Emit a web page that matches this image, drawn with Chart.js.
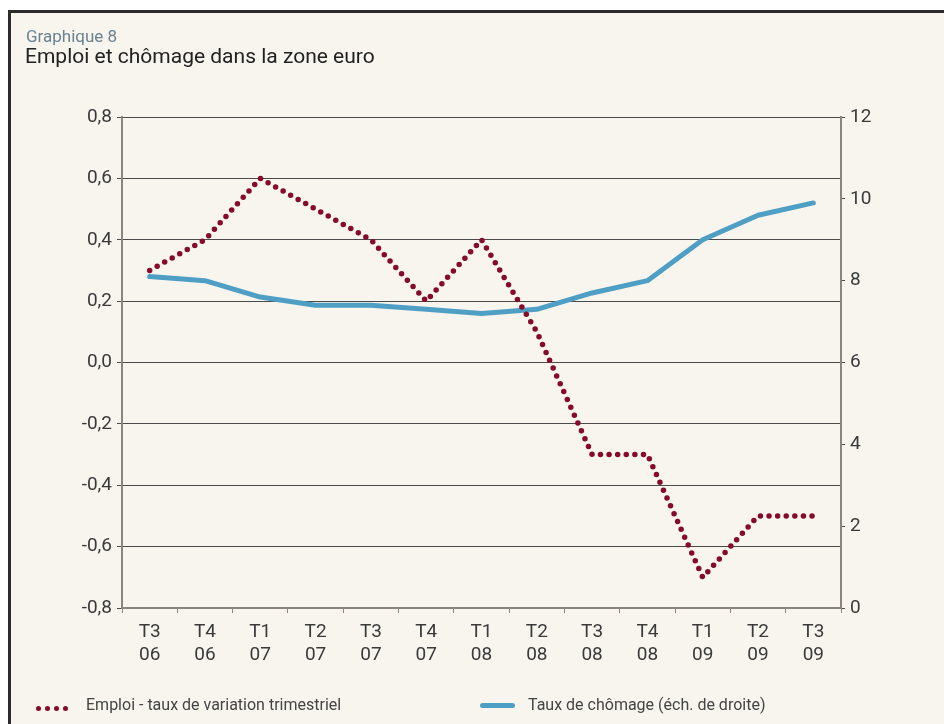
<!DOCTYPE html>
<html>
<head>
<meta charset="utf-8">
<script src="https://cdn.jsdelivr.net/npm/chart.js@4/dist/chart.umd.min.js"></script>
<style>
  html, body { margin: 0; padding: 0; background: #fff; }
  #page { position: relative; width: 944px; height: 724px; overflow: hidden; background: #fff; font-family: Roboto, sans-serif; }
  #frame { position: absolute; left: 8px; top: 10px; width: 960px; height: 740px; border-left: 3px solid #2b2b2b; border-top: 3px solid #2b2b2b; background: #f8f5ee; }
  #chart { position: absolute; left: 0; top: 0; }
  .sup { position: absolute; left: 26px; top: 26px; font-size: 17px; color: #6b8291; }
  .title { position: absolute; left: 25px; top: 44px; font-size: 21px; color: #222; }
  .leg { position: absolute; top: 695px; font-size: 16px; color: #444; line-height: 19px; }
  .dot { position: absolute; top: 706px; width: 5px; height: 5px; border-radius: 50%; background: #850a2b; }
  .bar { position: absolute; left: 480px; top: 703px; width: 35px; height: 5px; border-radius: 3px; background: #4f9fc5; }
</style>
</head>
<body>
<div id="page">
  <div id="frame"></div>
  <canvas id="chart" width="944" height="724"></canvas>
  <div class="sup">Graphique 8</div>
  <div class="title">Emploi et chômage dans la zone euro</div>
  <div class="dot" style="left:36px"></div>
  <div class="dot" style="left:45px"></div>
  <div class="dot" style="left:54px"></div>
  <div class="dot" style="left:63px"></div>
  <div class="leg" style="left:86px">Emploi - taux de variation trimestriel</div>
  <div class="bar"></div>
  <div class="leg" style="left:528px">Taux de chômage (éch. de droite)</div>
</div>
<script>
const quarters = [['T3','06'],['T4','06'],['T1','07'],['T2','07'],['T3','07'],['T4','07'],['T1','08'],['T2','08'],['T3','08'],['T4','08'],['T1','09'],['T2','09'],['T3','09']];
const emploi = [0.3, 0.4, 0.6, 0.5, 0.4, 0.2, 0.4, 0.1, -0.3, -0.3, -0.7, -0.5, -0.5];
const chomage = [8.1, 8.0, 7.6, 7.4, 7.4, 7.3, 7.2, 7.3, 7.7, 8.0, 9.0, 9.6, 9.9];

const tickFont = { family: 'Roboto, sans-serif', size: 19 };
const tickColor = '#3a3a3a';

function fmt(v) {
  let r = Math.round(v * 10) / 10;
  if (Math.abs(r) < 1e-9) r = 0;
  return r.toFixed(1).replace('.', ',');
}

new Chart(document.getElementById('chart'), {
  type: 'line',
  data: {
    labels: quarters,
    datasets: [
      {
        label: 'Emploi - taux de variation trimestriel',
        data: emploi,
        yAxisID: 'y',
        borderColor: '#850a2b',
        borderWidth: 5.5,
        borderDash: [0, 8.6],
        borderCapStyle: 'round',
        tension: 0,
        pointRadius: 0,
        fill: false
      },
      {
        label: 'Taux de chômage (éch. de droite)',
        data: chomage,
        yAxisID: 'y2',
        borderColor: '#4f9fc5',
        borderWidth: 5,
        borderCapStyle: 'round',
        borderJoinStyle: 'round',
        tension: 0,
        pointRadius: 0,
        fill: false
      }
    ]
  },
  options: {
    responsive: false,
    devicePixelRatio: 1,
    animation: false,
    layout: { padding: { top: 117, left: 0, right: 0, bottom: 0 } },
    plugins: { legend: { display: false }, tooltip: { enabled: false } },
    scales: {
      x: {
        offset: true,
        grid: { offset: true, drawOnChartArea: false, drawTicks: true, tickLength: 5, color: '#8a8580', lineWidth: 1 },
        border: { color: '#8a8580', width: 2 },
        ticks: { font: tickFont, color: tickColor, padding: 8, maxRotation: 0, autoSkip: false },
        afterFit: s => { s.height = 116; }
      },
      y: {
        position: 'left',
        min: -0.8, max: 0.8,
        grid: { color: '#4a4a4a', lineWidth: 1, tickLength: 5 },
        border: { color: '#8a8580', width: 2 },
        ticks: { stepSize: 0.2, font: tickFont, color: tickColor, padding: 5, callback: v => fmt(v) },
        afterFit: s => { s.width = 122; }
      },
      y2: {
        position: 'right',
        min: 0, max: 12,
        grid: { drawOnChartArea: false, tickLength: 4, color: '#4a4a4a' },
        border: { color: '#8a8580', width: 2 },
        ticks: { stepSize: 2, font: tickFont, color: tickColor, padding: 5 },
        afterFit: s => { s.width = 103; }
      }
    }
  }
});
</script>
</body>
</html>
